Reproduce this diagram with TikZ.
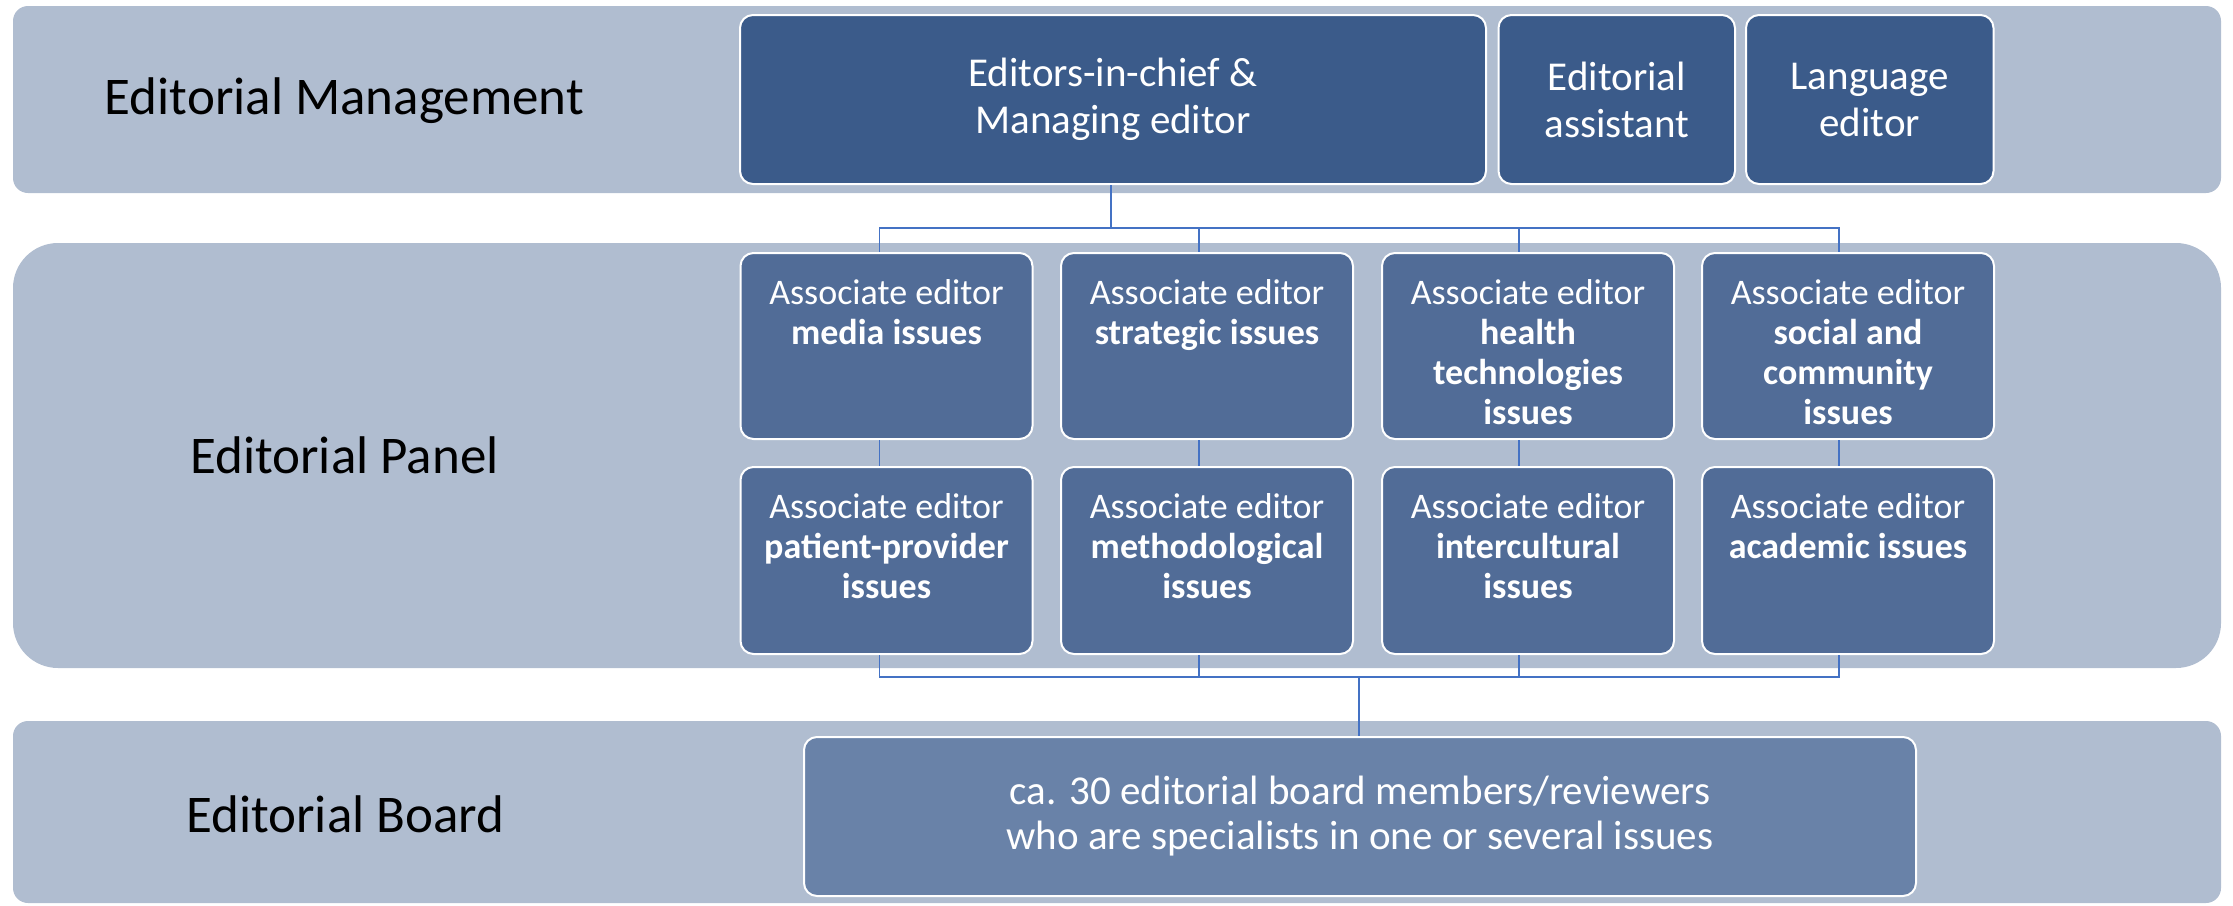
\documentclass[tikz,border=0pt]{standalone}
\usepackage{fontspec}
\setmainfont{Carlito}
\definecolor{bandc}{HTML}{B0BDD0}
\definecolor{mgmtc}{HTML}{3B5B8A}
\definecolor{assocc}{HTML}{516C97}
\definecolor{boardc}{HTML}{6982A8}
\definecolor{connc}{HTML}{4472C4}
\begin{document}
\begin{tikzpicture}[x=1pt,y=-1pt,
  band/.style={fill=bandc,draw=none,inner sep=0pt,outer sep=0pt,rectangle},
  lvl/.style={anchor=base west,inner sep=0pt,text=black,font=\fontsize{53}{60}\selectfont},
  mbox/.style={fill=mgmtc,draw=white,line width=2pt,rounded corners=13pt,inner sep=0pt,
    text=white,align=center,font=\fontsize{41}{47}\selectfont},
  abox/.style={fill=assocc,draw=white,line width=2pt,rounded corners=13pt,inner sep=0pt,
    minimum width=292pt,minimum height=186pt},
  atext/.style={anchor=north,yshift=-27pt,inner sep=0pt,text=white,align=center,
    font=\fontsize{36}{40}\selectfont},
  bbox/.style={fill=boardc,draw=white,line width=2pt,rounded corners=13pt,inner sep=0pt,
    text=white,align=center,font=\fontsize{41}{45}\selectfont},
  conn/.style={draw=connc,line width=1.3pt}]
\useasboundingbox (0,0) rectangle (2233,905);
% bands
\node[band,rounded corners=15pt,minimum width=2208pt,minimum height=187pt] (b1) at (1117,99.5) {};
\node[band,rounded corners=45pt,minimum width=2208pt,minimum height=425pt] (b2) at (1117,455.5) {};
\node[band,rounded corners=15pt,minimum width=2208pt,minimum height=182pt] (b3) at (1117,812) {};
% level labels
\node[lvl] (l1) at (104.6,114) {Editorial Management};
\node[lvl] (l2) at (190,473) {Editorial Panel};
\node[lvl] (l3) at (186,832) {Editorial Board};
% management boxes
\node[mbox,minimum width=746pt,minimum height=169pt] (ed) at (1113,99.5) {Editors-in-chief \&\\Managing editor};
\node[mbox,minimum width=236.5pt,minimum height=169pt] (ea) at (1616.75,99.5) {Editorial\\assistant};
\node[mbox,minimum width=247.5pt,minimum height=169pt] (le) at (1869.75,99.5) {Language\\editor};
% associate editors, row 1
\node[abox] (a1) at (886.5,346) {};
\node[abox] (a2) at (1207,346) {};
\node[abox] (a3) at (1528,346) {};
\node[abox] (a4) at (1848,346) {};
% row 2
\node[abox,minimum height=187pt] (c1) at (886.5,560.5) {};
\node[abox,minimum height=187pt] (c2) at (1207,560.5) {};
\node[abox,minimum height=187pt] (c3) at (1528,560.5) {};
\node[abox,minimum height=187pt] (c4) at (1848,560.5) {};
% texts
\node[atext] (ta1) at (a1.north) {Associate editor\\\textbf{media issues}};
\node[atext] (ta2) at (a2.north) {Associate editor\\\textbf{strategic issues}};
\node[atext] (ta3) at (a3.north) {Associate editor\\\textbf{health}\\\textbf{technologies}\\\textbf{issues}};
\node[atext] (ta4) at (a4.north) {Associate editor\\\textbf{social and}\\\textbf{community}\\\textbf{issues}};
\node[atext] (tc1) at (c1.north) {Associate editor\\\textbf{patient-provider}\\\textbf{issues}};
\node[atext] (tc2) at (c2.north) {Associate editor\\\textbf{methodological}\\\textbf{issues}};
\node[atext] (tc3) at (c3.north) {Associate editor\\\textbf{intercultural}\\\textbf{issues}};
\node[atext] (tc4) at (c4.north) {Associate editor\\\textbf{academic issues}};
% board box
\node[bbox,minimum width=1112pt,minimum height=159pt] (bd) at (1360,816.5) {ca. 30 editorial board members/reviewers\\who are specialists in one or several issues};
% connectors
\coordinate (j1) at (1111,228);
\coordinate (j2) at (1359,677);
\draw[conn] ([xshift=-2pt]ed.south) -- (j1);
\draw[conn] (j1) -| ([xshift=-7pt]a1.north);
\draw[conn] (j1) -| ([xshift=-8pt]a2.north);
\draw[conn] (j1) -| ([xshift=-9pt]a3.north);
\draw[conn] (j1) -| ([xshift=-9pt]a4.north);
\draw[conn] ([xshift=-7pt]a1.south) -- ([xshift=-7pt]c1.north);
\draw[conn] ([xshift=-8pt]a2.south) -- ([xshift=-8pt]c2.north);
\draw[conn] ([xshift=-9pt]a3.south) -- ([xshift=-9pt]c3.north);
\draw[conn] ([xshift=-9pt]a4.south) -- ([xshift=-9pt]c4.north);
\draw[conn] ([xshift=-7pt]c1.south) |- (j2);
\draw[conn] ([xshift=-8pt]c2.south) |- (j2);
\draw[conn] ([xshift=-9pt]c3.south) |- (j2);
\draw[conn] ([xshift=-9pt]c4.south) |- (j2);
\draw[conn] (j2) -- ([xshift=-1pt]bd.north);
\end{tikzpicture}
\end{document}
